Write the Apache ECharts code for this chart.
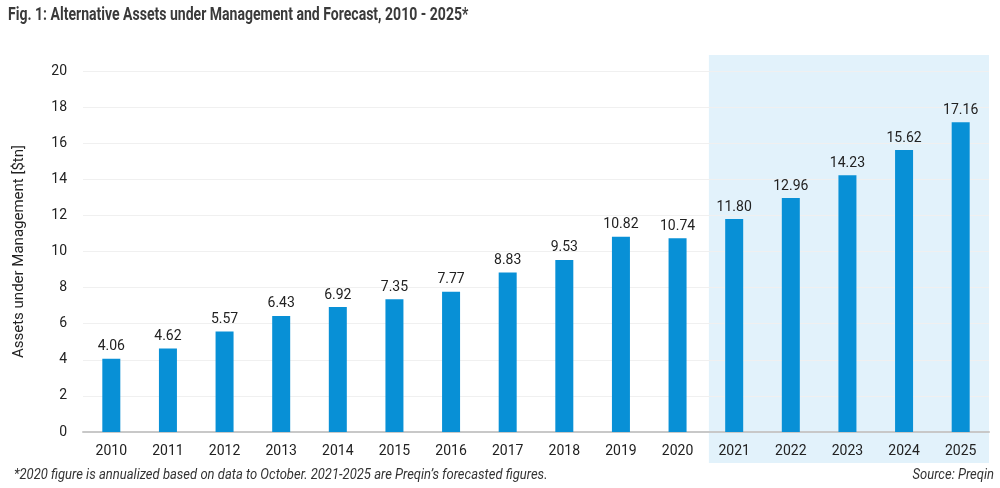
<!DOCTYPE html>
<html>
<head>
<meta charset="utf-8">
<script src="https://cdn.jsdelivr.net/npm/echarts@6/dist/echarts.min.js"></script>
<style>
html,body{margin:0;padding:0;background:#fff;}
#chart{width:1000px;height:488px;}
</style>
</head>
<body>
<div id="chart"></div>
<script>
const years = ['2010','2011','2012','2013','2014','2015','2016','2017','2018','2019','2020','2021','2022','2023','2024','2025'];
const aum = [4.06,4.62,5.57,6.43,6.92,7.35,7.77,8.83,9.53,10.82,10.74,11.80,12.96,14.23,15.62,17.16];
const forecastStart = '2021';
const forecastEnd = '2025';
const titleText = 'Fig. 1: Alternative Assets under Management and Forecast, 2010 - 2025*';
const footnote = '*2020 figure is annualized based on data to October. 2021-2025 are Preqin\u2019s forecasted figures.';
const sourceText = 'Source: Preqin';
const yAxisName = 'Assets under Management [$tn]';

const chart = echarts.init(document.getElementById('chart'));
const font = 'Roboto, "Noto Sans", sans-serif';
chart.setOption({
  animation: false,
  backgroundColor: '#fff',
  textStyle: {fontFamily: font},
  grid: {left: 83, right: 11, top: 71, bottom: 56},
  xAxis: {
    type: 'category', data: years,
    axisLine: {lineStyle: {color: '#c8c8c8', width: 2}},
    axisTick: {show: false},
    axisLabel: {color: '#222', fontSize: 14, margin: 12, fontFamily: font}
  },
  yAxis: {
    type: 'value', min: 0, max: 20, interval: 2,
    name: yAxisName, nameLocation: 'middle', nameGap: 56,
    nameTextStyle: {color: '#222', fontSize: 15, fontFamily: font},
    axisLine: {show: false}, axisTick: {show: false},
    axisLabel: {color: '#222', fontSize: 14, margin: 16, fontFamily: font},
    splitLine: {lineStyle: {color: '#f0f0f0', width: 1}}
  },
  series: [{
    type: 'bar', data: aum, barWidth: 18, z: 3,
    itemStyle: {color: '#0890d6'},
    label: {show: true, position: 'top', distance: 5, color: '#222', fontSize: 14, fontFamily: font,
      formatter: p => p.value.toFixed(2)}
  }]
});

function drawExtras(){
  const c0 = chart.convertToPixel({xAxisIndex: 0}, years[0]);
  const c1 = chart.convertToPixel({xAxisIndex: 0}, years[1]);
  const band = c1 - c0;
  const xs = chart.convertToPixel({xAxisIndex: 0}, forecastStart) - band / 2;
  const xe = chart.convertToPixel({xAxisIndex: 0}, forecastEnd) + band / 2;
  const yTop = chart.convertToPixel({yAxisIndex: 0}, 20) - 16;
  const yBot = chart.convertToPixel({yAxisIndex: 0}, 0) + 31;
  chart.setOption({
    graphic: [
      {type: 'rect', z: -10, silent: true,
       shape: {x: xs + 3, y: yTop, width: xe - xs - 3, height: yBot - yTop},
       style: {fill: '#e2f2fb'}},
      {type: 'text', x: 8, y: 15, scaleX: 0.78, z: 10,
       style: {text: titleText, fontFamily: font, fontWeight: 'bold', fontSize: 18, fill: '#3a3a3a',
               align: 'left', verticalAlign: 'middle'}},
      {type: 'text', x: 14, y: 475, scaleX: 0.93, z: 10,
       style: {text: footnote, fontFamily: font, fontStyle: 'italic', fontSize: 14, fill: '#333',
               align: 'left', verticalAlign: 'middle'}},
      {type: 'text', x: 994, y: 475, scaleX: 0.93, z: 10,
       style: {text: sourceText, fontFamily: font, fontStyle: 'italic', fontSize: 14, fill: '#333',
               align: 'right', verticalAlign: 'middle'}}
    ]
  });
}
drawExtras();
</script>
</body>
</html>
